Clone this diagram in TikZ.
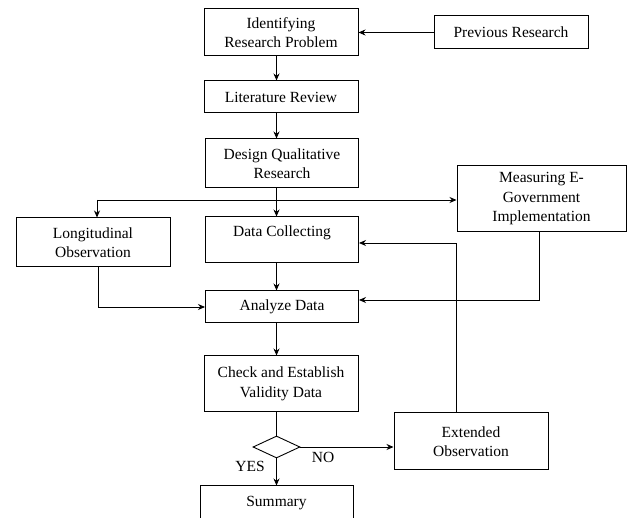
\documentclass[tikz,border=0pt]{standalone}
\usepackage{fontspec}
\setmainfont{Liberation Serif}
\usetikzlibrary{arrows.meta,shapes.geometric}
\begin{document}
\begin{tikzpicture}[x=1pt,y=-1pt,
  txt/.style={font=\fontsize{15.5}{19.5}\selectfont, inner sep=0pt, align=center},
  box/.style={txt, draw, line width=1pt},
  arr/.style={line width=0.9pt, -{Stealth[length=7pt,width=6pt]}},
  ln/.style={line width=0.9pt}]
\useasboundingbox (0,0) rectangle (627,518);
\clip (0,0) rectangle (627,518);
\node[box, minimum width=154pt, minimum height=47pt] (ident) at (281,32.5) {Identifying\\Research Problem};
\node[box, minimum width=154pt, minimum height=33pt] (prev) at (511,32.5) {Previous Research};
\node[box, minimum width=154pt, minimum height=32pt] (lit) at (281,97) {Literature Review};
\node[box, minimum width=153pt, minimum height=49pt] (design) at (282,163.5) {Design Qualitative\\Research};
\node[box, minimum width=169pt, minimum height=66pt] (meas) at (541.5,199) {Measuring E-\\Government\\Implementation};
\node[box, minimum width=154pt, minimum height=49pt] (longi) at (93,242.5) {Longitudinal\\Observation};
\node[box, minimum width=153pt, minimum height=46pt] (data) at (282,240) {};
\node[txt] (datat) at (282,233) {Data Collecting};
\node[box, minimum width=153pt, minimum height=32pt] (anal) at (282,307) {Analyze Data};
\node[box, minimum width=154pt, minimum height=56pt] (check) at (281,384) {Check and Establish\\Validity Data};
\node[draw, line width=0.9pt, diamond, inner sep=0pt, minimum width=47pt, minimum height=22pt] (dia) at (276.5,447) {};
\node[box, minimum width=154pt, minimum height=57pt] (ext) at (471,441.5) {Extended\\Observation};
\node[box, minimum width=153pt, minimum height=34pt] (summ) at (276.5,503) {Summary};
\node[txt] (no) at (323,457) {NO};
\node[txt] (yes) at (250,466) {YES};

\coordinate (c) at (276.5,0);
\coordinate (hL) at (97,200);
\coordinate (la) at (98,307);
\coordinate (ma) at (539,300);
\coordinate (ed) at (456.5,243);

\draw[arr] (prev.west) -- (ident.east);
\draw[arr] (ident.south -| c) -- (lit.north -| c);
\draw[arr] (lit.south -| c) -- (design.north -| c);
\draw[arr] (design.south -| c) -- (data.north -| c);
\draw[arr] (hL) -- (longi.north -| hL);
\draw[arr] (hL) -- (meas.west |- hL);
\draw[arr] (longi.south -| la) |- (anal.west |- la);
\draw[arr] (meas.south -| ma) |- (anal.east |- ma);
\draw[arr] (data.south -| c) -- (anal.north -| c);
\draw[arr] (anal.south -| c) -- (check.north -| c);
\draw[ln] (check.south -| dia.north) -- (dia.north);
\draw[arr] (dia.east) -- (ext.west |- dia.east);
\draw[arr] (dia.south) -- (summ.north -| dia.south);
\draw[arr] (ext.north -| ed) |- (data.east |- ed);
\end{tikzpicture}
\end{document}
